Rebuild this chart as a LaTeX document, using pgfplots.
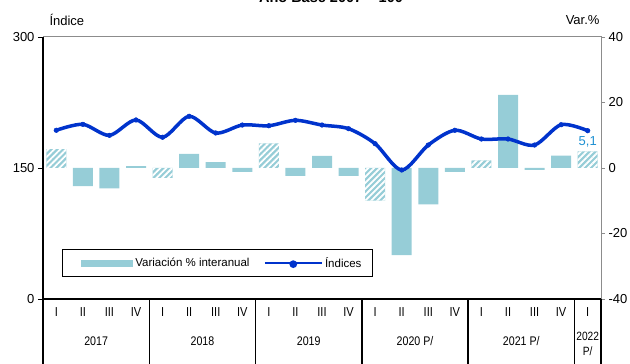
\documentclass[border=0pt]{standalone}
\usepackage{pgfplots}
\pgfplotsset{compat=1.18}
\usepackage{pgfplotstable}
\usepackage{fontspec}
\setmainfont{Liberation Sans}
\newfontfamily\narrowfont[FakeStretch=0.85]{Liberation Sans}
\usetikzlibrary{patterns.meta}
\definecolor{barblue}{RGB}{150,205,215}
\definecolor{lineblue}{RGB}{0,51,204}
\definecolor{lblblue}{RGB}{30,144,210}

\pgfplotstableread{
x v
1 -5.5
2 -6.2
3 0.6
5 4.3
6 1.8
7 -1.2
9 -2.4
10 3.7
11 -2.4
13 -26.6
14 -11.1
15 -1.2
17 22.3
18 -0.6
19 3.8
}\solid
\pgfplotstableread{
x v
0 5.8
4 -3.0
8 7.5
12 -10.0
16 2.3
20 5.1
}\hatched
\pgfplotstableread{
x idx
0 193.2
1 200.0
2 187.4
3 205.0
4 185.2
5 209.2
6 190.1
7 199.2
8 198.4
9 204.6
10 199.2
11 195.0
12 177.8
13 147.7
14 176.3
15 193.2
16 183.2
17 183.2
18 176.3
19 199.6
20 192.7
}\indices

\begin{document}
\begin{tikzpicture}
\begin{axis}[
  at={(43pt,65pt)}, anchor=south west,
  scale only axis, width=558pt, height=262pt,
  xmin=-0.5, xmax=20.5, ymin=-40, ymax=40,
  xtick=\empty,
  ytick={-40,-20,0,20,40},
  ytick pos=right, yticklabel pos=right,
  tick align=outside,
  major tick length=4pt,
  axis line style={black!45, line width=1pt},
  ytick style={black!45, line width=0.8pt},
  ticklabel style={font=\fontsize{13}{15}\selectfont},
  /pgf/number format/assume math mode=true,
  ybar, bar width=20pt,
  clip=false,
]
\addplot[fill=barblue, draw=none, bar shift=0pt] table[x=x,y=v]{\solid};
\addplot[fill=barblue, draw=none, bar shift=0pt, postaction={pattern={Lines[angle=45,distance=4.2pt,line width=1.8pt]}, pattern color=white}] table[x=x,y=v]{\hatched};
\node[text=lblblue, font=\fontsize{13}{15}\selectfont, anchor=south, yshift=1pt] at (axis cs:20,5.1) {5,1};
\end{axis}

\begin{axis}[
  at={(43pt,65pt)}, anchor=south west,
  scale only axis, width=558pt, height=262pt,
  xmin=-0.5, xmax=20.5, ymin=0, ymax=300,
  axis x line*=bottom, axis y line*=left,
  axis line style={black, line width=1.3pt, -},
  xtick={0,...,20},
  xticklabels={I,II,III,IV,I,II,III,IV,I,II,III,IV,I,II,III,IV,I,II,III,IV,I},
  x tick label style={font=\narrowfont\fontsize{13}{15}\selectfont, anchor=center, yshift=-8pt},
  xtick style={draw=none},
  ytick={0,150,300},
  ytick style={black, line width=0.8pt},
  tick align=outside, major tick length=5pt,
  yticklabel style={font=\fontsize{13}{15}\selectfont},
  /pgf/number format/assume math mode=true,
  clip=false,
  legend columns=2,
  legend style={at={(0.034,0.191)}, anchor=north west, draw=black, line width=0.9pt,
    font=\fontsize{11.5}{13}\selectfont, inner xsep=9pt, inner ysep=6pt,
    /tikz/every even column/.append style={column sep=12pt}},
]
\addlegendimage{legend image code/.code={\path (-10pt,0pt); \fill[barblue] (0pt,-3pt) rectangle (51pt,3pt);}}
\addlegendentry{Variación \% interanual}
\addplot[lineblue, line width=3.5pt, smooth, mark=*, mark size=2.3pt, mark options={fill=lineblue, line width=0.5pt},
  legend image code/.code={\draw[lineblue, line width=2.5pt] (0pt,0pt) -- (57pt,0pt); \fill[lineblue] (28.5pt,-1pt) circle (2pt);}]
  table[x=x,y=idx]{\indices};
\addlegendentry{Índices}
\pgfplotsinvokeforeach{-0.5,3.5,7.5,11.5,15.5,19.5,20.5}{
  \draw[black, line width=1.3pt] (axis cs:#1,0) -- ++(0pt,-66pt);
}
\node[font=\narrowfont\fontsize{12.5}{14}\selectfont] at (axis cs:1.5,0) [yshift=-42pt] {2017};
\node[font=\narrowfont\fontsize{12.5}{14}\selectfont] at (axis cs:5.5,0) [yshift=-42pt] {2018};
\node[font=\narrowfont\fontsize{12.5}{14}\selectfont] at (axis cs:9.5,0) [yshift=-42pt] {2019};
\node[font=\narrowfont\fontsize{12.5}{14}\selectfont] at (axis cs:13.5,0) [yshift=-42pt] {2020 P/};
\node[font=\narrowfont\fontsize{12.5}{14}\selectfont] at (axis cs:17.5,0) [yshift=-42pt] {2021 P/};
\node[font=\narrowfont\fontsize{12}{15}\selectfont, align=center, inner sep=0pt] at (axis cs:20,0) [yshift=-45pt] {2022\\P/};
\end{axis}

\node[anchor=west, font=\fontsize{13}{15}\selectfont] at (46pt,344pt) {Índice};
\node[anchor=east, font=\fontsize{13}{15}\selectfont] at (603pt,344pt) {Var.\%};
\node[anchor=base, font=\bfseries\fontsize{14.5}{16}\selectfont] at (331pt,361.5pt) {Año Base 2007 = 100};
\pgfresetboundingbox
\path[use as bounding box] (0pt,0pt) rectangle (630pt,364pt);
\end{tikzpicture}
\end{document}
